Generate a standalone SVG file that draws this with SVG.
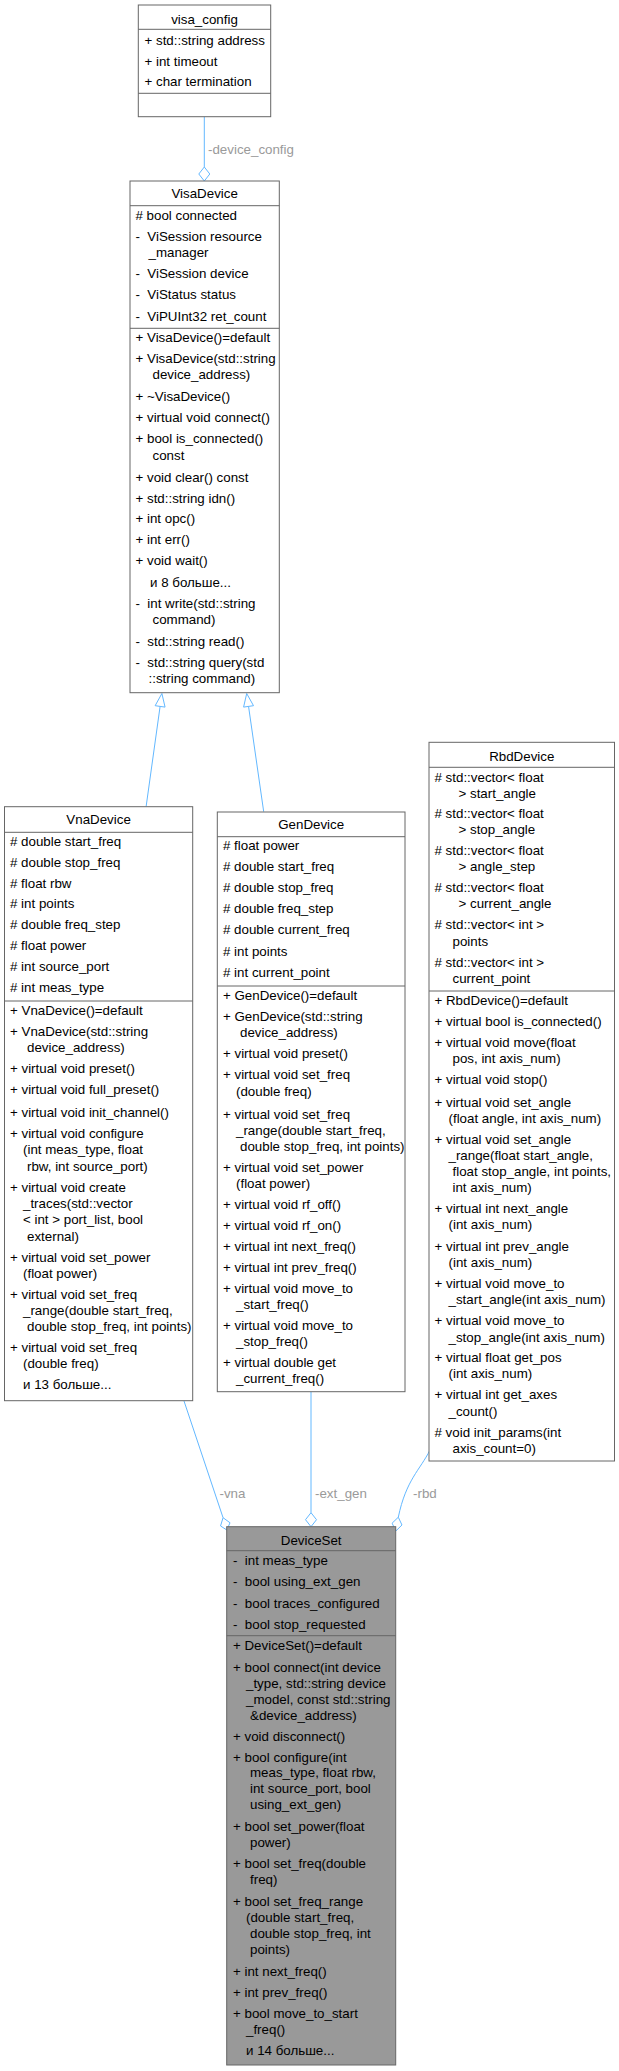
<svg xmlns="http://www.w3.org/2000/svg" width="619" height="2071" viewBox="0 0 619 2071" xml:space="preserve">
<style>
.t{font-family:"Liberation Sans",Arial,sans-serif;font-size:13.33px;fill:#000;white-space:pre}
.ttl{text-anchor:middle}
.lbl{font-family:"Liberation Sans",Arial,sans-serif;font-size:13.33px;fill:#9a9a9a}
.box{fill:#fff;stroke:#666;stroke-width:1}
.gbox{fill:#999;stroke:#666;stroke-width:1}
.sep{stroke:#666;stroke-width:1}
.edge{fill:none;stroke:#63b8ff;stroke-width:1}
.head{fill:#fff;stroke:#63b8ff;stroke-width:1}
</style>
<rect x="0" y="0" width="619" height="2071" fill="#fff"/>

<g id="connectors">
  <path class="edge" d="M204.3,116.7 L204.3,167"/>
  <polygon class="head" points="204.3,181 209.8,174 204.3,167 198.8,174"/>
  <text class="lbl" x="208" y="154">-device_config</text>

  <path class="edge" d="M160.1,706.4 L146.1,806.7"/>
  <polygon class="head" points="161.9,693.5 165.05,707.1 155.15,705.7"/>
  <path class="edge" d="M248.55,706.4 L263.7,811.7"/>
  <polygon class="head" points="246.7,693.5 253.5,705.7 243.6,707.1"/>

  <path class="edge" d="M184,1401 L223.06,1517.7"/>
  <polygon class="head" points="226.8,1530 230.02,1522.77 223.06,1517.7 220.54,1525.94"/>
  <text class="lbl" x="219.5" y="1498">-vna</text>

  <path class="edge" d="M311,1391.7 L311,1512.7"/>
  <polygon class="head" points="311,1526.7 316.5,1519.7 311,1512.7 305.5,1519.7"/>
  <text class="lbl" x="315" y="1498">-ext_gen</text>

  <path class="edge" d="M430,1450 C420,1470 406,1480 398.3,1517.2"/>
  <polygon class="head" points="395.8,1531 401.98,1525 398.3,1517.2 392.12,1523.2"/>
  <text class="lbl" x="413" y="1498">-rbd</text>
</g>

<g id="visa_config">
  <rect class="box" x="138.3" y="5" width="132.4" height="111.7"/>
  <line class="sep" x1="138.3" y1="29.3" x2="270.7" y2="29.3"/>
  <line class="sep" x1="138.3" y1="93.3" x2="270.7" y2="93.3"/>
  <text class="t ttl" x="204.5" y="24">visa_config</text>
  <text class="t" x="144.5" y="45">+ std::string address</text>
  <text class="t" x="144.5" y="65.5">+ int timeout</text>
  <text class="t" x="144.5" y="86">+ char termination</text>
</g>

<g id="VisaDevice">
  <rect class="box" x="130" y="181" width="149.3" height="511.7"/>
  <line class="sep" x1="130" y1="205.7" x2="279.3" y2="205.7"/>
  <line class="sep" x1="130" y1="328.3" x2="279.3" y2="328.3"/>
  <text class="t ttl" x="204.65" y="198.3">VisaDevice</text>
  <text class="t" x="135.5" y="220"># bool connected</text>
  <text class="t" x="135.5" y="240.7">-  ViSession resource</text>
  <text class="t" x="148.5" y="257.3">_manager</text>
  <text class="t" x="135.5" y="278.3">-  ViSession device</text>
  <text class="t" x="135.5" y="299.3">-  ViStatus status</text>
  <text class="t" x="135.5" y="320.7">-  ViPUInt32 ret_count</text>
  <text class="t" x="135.5" y="342.3">+ VisaDevice()=default</text>
  <text class="t" x="135.5" y="363.3">+ VisaDevice(std::string</text>
  <text class="t" x="152.5" y="379.3">device_address)</text>
  <text class="t" x="135.5" y="400.7">+ ~VisaDevice()</text>
  <text class="t" x="135.5" y="422.3">+ virtual void connect()</text>
  <text class="t" x="135.5" y="443.3">+ bool is_connected()</text>
  <text class="t" x="152.5" y="460">const</text>
  <text class="t" x="135.5" y="481.7">+ void clear() const</text>
  <text class="t" x="135.5" y="502.7">+ std::string idn()</text>
  <text class="t" x="135.5" y="523.3">+ int opc()</text>
  <text class="t" x="135.5" y="544.3">+ int err()</text>
  <text class="t" x="135.5" y="565">+ void wait()</text>
  <text class="t" x="150" y="586.7">и 8 больше...</text>
  <text class="t" x="135.5" y="607.7">-  int write(std::string</text>
  <text class="t" x="152.5" y="624.3">command)</text>
  <text class="t" x="135.5" y="645.7">-  std::string read()</text>
  <text class="t" x="135.5" y="666.7">-  std::string query(std</text>
  <text class="t" x="148.5" y="683.3">::string command)</text>
</g>

<g id="VnaDevice">
  <rect class="box" x="4.5" y="806.7" width="188.2" height="594"/>
  <line class="sep" x1="4.5" y1="832.3" x2="192.7" y2="832.3"/>
  <line class="sep" x1="4.5" y1="1001" x2="192.7" y2="1001"/>
  <text class="t ttl" x="98.6" y="824">VnaDevice</text>
  <text class="t" x="10" y="846"># double start_freq</text>
  <text class="t" x="10" y="867"># double stop_freq</text>
  <text class="t" x="10" y="887.7"># float rbw</text>
  <text class="t" x="10" y="908.3"># int points</text>
  <text class="t" x="10" y="929.3"># double freq_step</text>
  <text class="t" x="10" y="950"># float power</text>
  <text class="t" x="10" y="971"># int source_port</text>
  <text class="t" x="10" y="992"># int meas_type</text>
  <text class="t" x="10" y="1015">+ VnaDevice()=default</text>
  <text class="t" x="10" y="1036">+ VnaDevice(std::string</text>
  <text class="t" x="27" y="1052.3">device_address)</text>
  <text class="t" x="10" y="1073.3">+ virtual void preset()</text>
  <text class="t" x="10" y="1094.3">+ virtual void full_preset()</text>
  <text class="t" x="10" y="1117.3">+ virtual void init_channel()</text>
  <text class="t" x="10" y="1138.3">+ virtual void configure</text>
  <text class="t" x="23" y="1154.3">(int meas_type, float</text>
  <text class="t" x="27" y="1170.7">rbw, int source_port)</text>
  <text class="t" x="10" y="1191.7">+ virtual void create</text>
  <text class="t" x="23" y="1208.3">_traces(std::vector</text>
  <text class="t" x="23" y="1224.3">&lt; int &gt; port_list, bool</text>
  <text class="t" x="27" y="1240.7">external)</text>
  <text class="t" x="10" y="1261.7">+ virtual void set_power</text>
  <text class="t" x="23" y="1277.7">(float power)</text>
  <text class="t" x="10" y="1299">+ virtual void set_freq</text>
  <text class="t" x="23" y="1315">_range(double start_freq,</text>
  <text class="t" x="27" y="1331">double stop_freq, int points)</text>
  <text class="t" x="10" y="1352.3">+ virtual void set_freq</text>
  <text class="t" x="23" y="1368.3">(double freq)</text>
  <text class="t" x="23" y="1389.3">и 13 больше...</text>
</g>

<g id="GenDevice">
  <rect class="box" x="217.3" y="812" width="187.7" height="579.7"/>
  <line class="sep" x1="217.3" y1="836.7" x2="405" y2="836.7"/>
  <line class="sep" x1="217.3" y1="986" x2="405" y2="986"/>
  <text class="t ttl" x="311.2" y="829">GenDevice</text>
  <text class="t" x="223" y="850"># float power</text>
  <text class="t" x="223" y="871"># double start_freq</text>
  <text class="t" x="223" y="892.3"># double stop_freq</text>
  <text class="t" x="223" y="913.3"># double freq_step</text>
  <text class="t" x="223" y="934.3"># double current_freq</text>
  <text class="t" x="223" y="955.7"># int points</text>
  <text class="t" x="223" y="976.7"># int current_point</text>
  <text class="t" x="223" y="1000">+ GenDevice()=default</text>
  <text class="t" x="223" y="1021">+ GenDevice(std::string</text>
  <text class="t" x="240" y="1037.3">device_address)</text>
  <text class="t" x="223" y="1058.3">+ virtual void preset()</text>
  <text class="t" x="223" y="1079.3">+ virtual void set_freq</text>
  <text class="t" x="236" y="1095.7">(double freq)</text>
  <text class="t" x="223" y="1119">+ virtual void set_freq</text>
  <text class="t" x="236" y="1135">_range(double start_freq,</text>
  <text class="t" x="240" y="1151">double stop_freq, int points)</text>
  <text class="t" x="223" y="1172.3">+ virtual void set_power</text>
  <text class="t" x="236" y="1188.3">(float power)</text>
  <text class="t" x="223" y="1209.3">+ virtual void rf_off()</text>
  <text class="t" x="223" y="1230">+ virtual void rf_on()</text>
  <text class="t" x="223" y="1251">+ virtual int next_freq()</text>
  <text class="t" x="223" y="1271.7">+ virtual int prev_freq()</text>
  <text class="t" x="223" y="1292.7">+ virtual void move_to</text>
  <text class="t" x="236" y="1309">_start_freq()</text>
  <text class="t" x="223" y="1330">+ virtual void move_to</text>
  <text class="t" x="236" y="1346">_stop_freq()</text>
  <text class="t" x="223" y="1367.3">+ virtual double get</text>
  <text class="t" x="236" y="1383.3">_current_freq()</text>
</g>

<g id="RbdDevice">
  <rect class="box" x="429" y="742.3" width="185.5" height="718.7"/>
  <line class="sep" x1="429" y1="767.3" x2="614.5" y2="767.3"/>
  <line class="sep" x1="429" y1="991" x2="614.5" y2="991"/>
  <text class="t ttl" x="521.75" y="761">RbdDevice</text>
  <text class="t" x="434.5" y="781.7"># std::vector&lt; float</text>
  <text class="t" x="458.5" y="797.7">&gt; start_angle</text>
  <text class="t" x="434.5" y="818.3"># std::vector&lt; float</text>
  <text class="t" x="458.5" y="834.3">&gt; stop_angle</text>
  <text class="t" x="434.5" y="855"># std::vector&lt; float</text>
  <text class="t" x="458.5" y="871">&gt; angle_step</text>
  <text class="t" x="434.5" y="892.3"># std::vector&lt; float</text>
  <text class="t" x="458.5" y="908.3">&gt; current_angle</text>
  <text class="t" x="434.5" y="929.3"># std::vector&lt; int &gt;</text>
  <text class="t" x="452.5" y="945.7">points</text>
  <text class="t" x="434.5" y="966.7"># std::vector&lt; int &gt;</text>
  <text class="t" x="452.5" y="982.7">current_point</text>
  <text class="t" x="434.5" y="1005">+ RbdDevice()=default</text>
  <text class="t" x="434.5" y="1025.7">+ virtual bool is_connected()</text>
  <text class="t" x="434.5" y="1047.3">+ virtual void move(float</text>
  <text class="t" x="452.5" y="1063.3">pos, int axis_num)</text>
  <text class="t" x="434.5" y="1084.3">+ virtual void stop()</text>
  <text class="t" x="434.5" y="1106.7">+ virtual void set_angle</text>
  <text class="t" x="448.5" y="1122.7">(float angle, int axis_num)</text>
  <text class="t" x="434.5" y="1144.3">+ virtual void set_angle</text>
  <text class="t" x="448.5" y="1160">_range(float start_angle,</text>
  <text class="t" x="452.5" y="1176">float stop_angle, int points,</text>
  <text class="t" x="452.5" y="1192.3">int axis_num)</text>
  <text class="t" x="434.5" y="1213.3">+ virtual int next_angle</text>
  <text class="t" x="448.5" y="1229.3">(int axis_num)</text>
  <text class="t" x="434.5" y="1250.7">+ virtual int prev_angle</text>
  <text class="t" x="448.5" y="1266.7">(int axis_num)</text>
  <text class="t" x="434.5" y="1287.7">+ virtual void move_to</text>
  <text class="t" x="448.5" y="1304.3">_start_angle(int axis_num)</text>
  <text class="t" x="434.5" y="1325">+ virtual void move_to</text>
  <text class="t" x="448.5" y="1341.7">_stop_angle(int axis_num)</text>
  <text class="t" x="434.5" y="1362.3">+ virtual float get_pos</text>
  <text class="t" x="448.5" y="1378.3">(int axis_num)</text>
  <text class="t" x="434.5" y="1399.3">+ virtual int get_axes</text>
  <text class="t" x="448.5" y="1415.7">_count()</text>
  <text class="t" x="434.5" y="1436.7"># void init_params(int</text>
  <text class="t" x="452.5" y="1452.7">axis_count=0)</text>
</g>

<g id="DeviceSet">
  <rect class="gbox" x="226.7" y="1526.7" width="169" height="538.3"/>
  <line class="sep" x1="226.7" y1="1550.7" x2="395.7" y2="1550.7"/>
  <line class="sep" x1="226.7" y1="1635.7" x2="395.7" y2="1635.7"/>
  <text class="t ttl" x="311.2" y="1545">DeviceSet</text>
  <text class="t" x="233" y="1565">-  int meas_type</text>
  <text class="t" x="233" y="1586">-  bool using_ext_gen</text>
  <text class="t" x="233" y="1607.7">-  bool traces_configured</text>
  <text class="t" x="233" y="1629">-  bool stop_requested</text>
  <text class="t" x="233" y="1650">+ DeviceSet()=default</text>
  <text class="t" x="233" y="1672.3">+ bool connect(int device</text>
  <text class="t" x="246" y="1688.3">_type, std::string device</text>
  <text class="t" x="246" y="1704.3">_model, const std::string</text>
  <text class="t" x="250" y="1720">&amp;device_address)</text>
  <text class="t" x="233" y="1741">+ void disconnect()</text>
  <text class="t" x="233" y="1761.7">+ bool configure(int</text>
  <text class="t" x="250" y="1776.7">meas_type, float rbw,</text>
  <text class="t" x="250" y="1792.7">int source_port, bool</text>
  <text class="t" x="250" y="1809">using_ext_gen)</text>
  <text class="t" x="233" y="1830.7">+ bool set_power(float</text>
  <text class="t" x="250" y="1846.7">power)</text>
  <text class="t" x="233" y="1868.3">+ bool set_freq(double</text>
  <text class="t" x="250" y="1884.3">freq)</text>
  <text class="t" x="233" y="1906">+ bool set_freq_range</text>
  <text class="t" x="246" y="1921.7">(double start_freq,</text>
  <text class="t" x="250" y="1937.7">double stop_freq, int</text>
  <text class="t" x="250" y="1954.3">points)</text>
  <text class="t" x="233" y="1975.7">+ int next_freq()</text>
  <text class="t" x="233" y="1996.7">+ int prev_freq()</text>
  <text class="t" x="233" y="2017.7">+ bool move_to_start</text>
  <text class="t" x="246" y="2034">_freq()</text>
  <text class="t" x="246" y="2055">и 14 больше...</text>
</g>
</svg>
